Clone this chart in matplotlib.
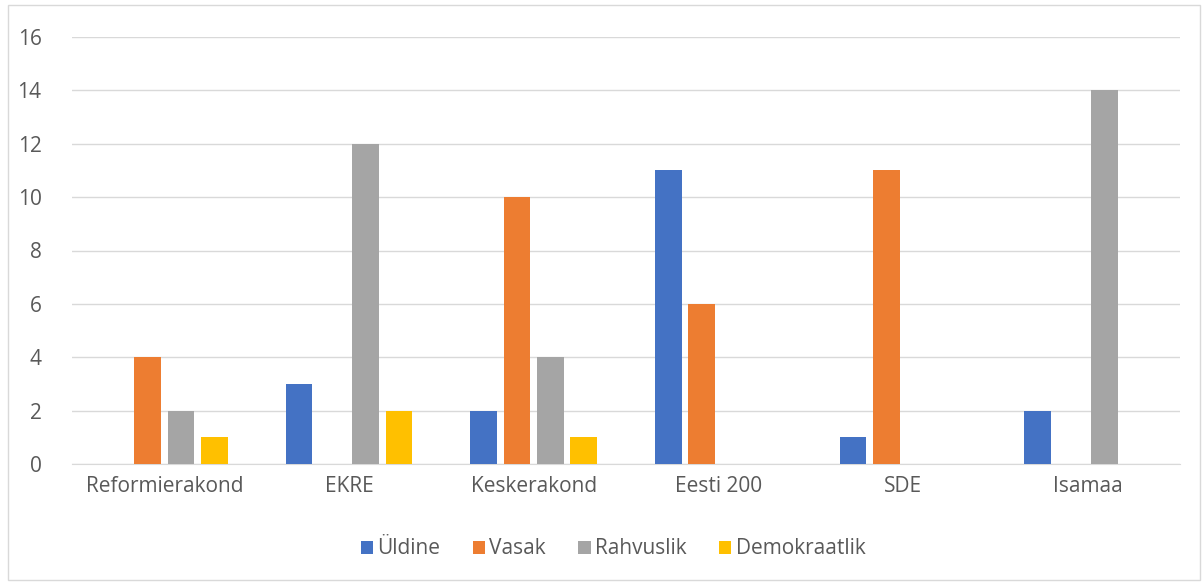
import matplotlib
matplotlib.use("Agg")
import matplotlib.pyplot as plt
import numpy as np
from matplotlib.patches import Rectangle

categories = ["Reformierakond", "EKRE", "Keskerakond", "Eesti 200", "SDE", "Isamaa"]
series_names = ["Üldine", "Vasak", "Rahvuslik", "Demokraatlik"]
uldine = [0, 3, 2, 11, 1, 2]
vasak = [4, 0, 10, 6, 11, 0]
rahvuslik = [2, 12, 4, 0, 0, 14]
demokraatlik = [1, 2, 1, 0, 0, 0]
colors = ["#4472C4", "#ED7D31", "#A5A5A5", "#FFC000"]
yticks = [0, 2, 4, 6, 8, 10, 12, 14, 16]

plt.rcParams['font.family'] = ['Open Sans', 'DejaVu Sans']

fig = plt.figure(figsize=(12.04, 5.83), dpi=100)
ax = fig.add_axes([72/1204, 1 - 464/583, 1108/1204, 427/583])

x = np.arange(len(categories))
gw = 1108/6
bw = 26.5/gw
step = 33.3/gw
for i, (vals, name) in enumerate(zip([uldine, vasak, rahvuslik, demokraatlik], series_names)):
    ax.bar(x + (i - 1.5) * step, vals, width=bw, color=colors[i], label=name, zorder=3)

ax.set_xlim(-0.5, len(categories) - 0.5)
ax.set_ylim(0, 16)
ax.set_yticks(yticks)
ax.set_xticks(x)
ax.set_xticklabels(categories)
ax.grid(axis='y', color='#D9D9D9', linewidth=1, zorder=0)
for s in ['top', 'right', 'left']:
    ax.spines[s].set_visible(False)
ax.spines['bottom'].set_color('#D9D9D9')
ax.tick_params(axis='both', length=0, labelsize=15, colors='#595959')
ax.tick_params(axis='y', pad=22)
ax.tick_params(axis='x', pad=9)

leg = fig.legend(loc='center', bbox_to_anchor=(613/1204, 1 - 549/583), ncol=4, frameon=False,
                 fontsize=15, handlelength=0.6, handleheight=0.6, handletextpad=0.2, columnspacing=1.55)
for t in leg.get_texts():
    t.set_color('#595959')

fig.patches.append(Rectangle((8/1204, 3/583), 1192/1204, 575/583, transform=fig.transFigure,
                             fill=False, edgecolor='#D9D9D9', linewidth=1))

fig.savefig("out.png", dpi=100, facecolor='white')
